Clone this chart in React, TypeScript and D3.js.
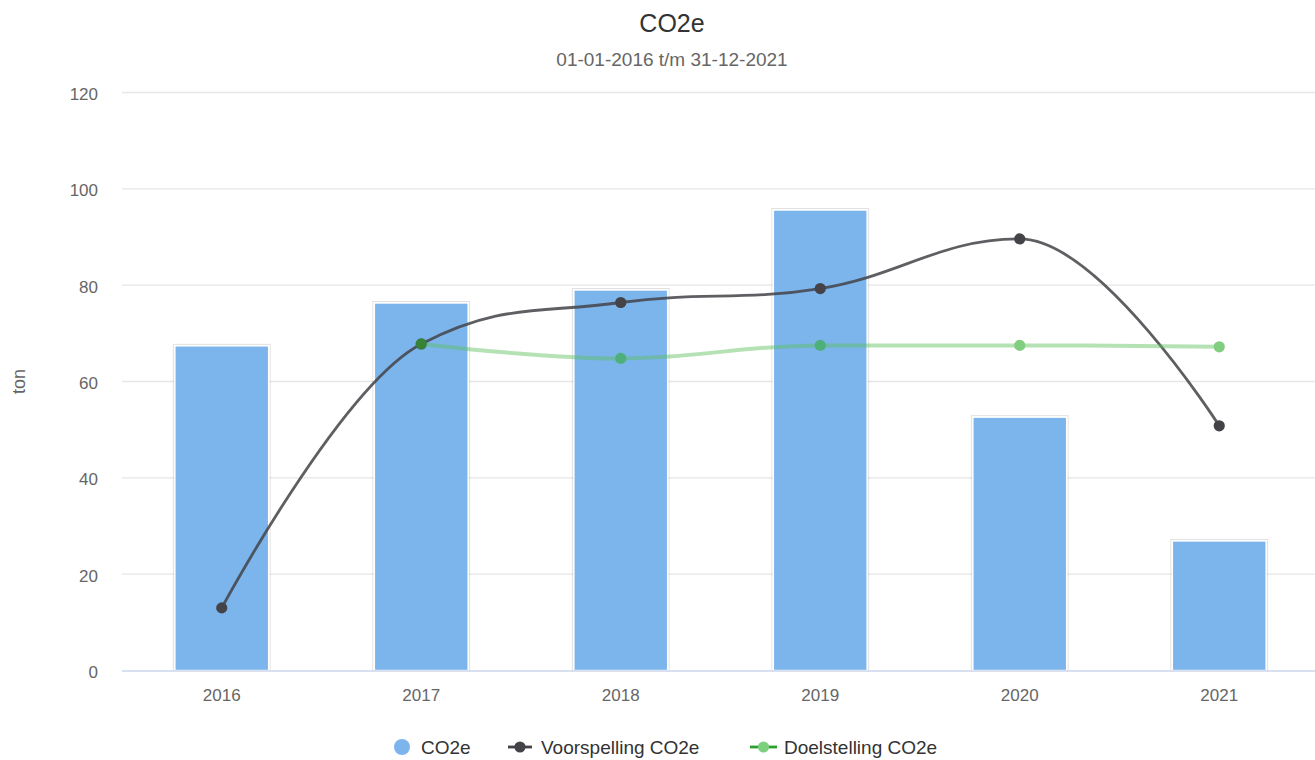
import React from 'react';
import * as d3 from 'd3';

const years = ['2016', '2017', '2018', '2019', '2020', '2021'];
const co2e = [67.4, 76.3, 79.0, 95.6, 52.6, 26.9];
const forecast = [13.0, 67.8, 76.4, 79.3, 89.6, 50.8];
const target: (number | null)[] = [null, 67.8, 64.8, 67.5, 67.5, 67.2];
const yTicks = [0, 20, 40, 60, 80, 100, 120];

const W = 1315;
const H = 760;
const margin = { top: 92.5, right: -4, bottom: 89.5, left: 122 };
const FONT = '"Liberation Sans", Arial, Helvetica, sans-serif';

type Pt = { x: number; y: number };

// Highcharts-style spline: control points at 1.5 smoothing, clamped at extremes
function splinePath(pts: Pt[]): string {
  const smoothing = 1.5;
  const denom = smoothing + 1;
  const ctrl = pts.map((p, i) => {
    const last = pts[i - 1];
    const next = pts[i + 1];
    if (!last || !next) return { lx: p.x, ly: p.y, rx: p.x, ry: p.y };
    const lx = (smoothing * p.x + last.x) / denom;
    let ly = (smoothing * p.y + last.y) / denom;
    const rx = (smoothing * p.x + next.x) / denom;
    let ry = (smoothing * p.y + next.y) / denom;
    const corr = ((ry - ly) * (rx - p.x)) / (rx - lx) + p.y - ry;
    ly += corr;
    ry += corr;
    if (ly > last.y && ly > p.y) {
      ly = Math.max(last.y, p.y);
      ry = 2 * p.y - ly;
    } else if (ly < last.y && ly < p.y) {
      ly = Math.min(last.y, p.y);
      ry = 2 * p.y - ly;
    }
    if (ry > next.y && ry > p.y) {
      ry = Math.max(next.y, p.y);
      ly = 2 * p.y - ry;
    } else if (ry < next.y && ry < p.y) {
      ry = Math.min(next.y, p.y);
      ly = 2 * p.y - ry;
    }
    return { lx, ly, rx, ry };
  });
  const path = d3.path();
  pts.forEach((p, i) => {
    if (i === 0) {
      path.moveTo(p.x, p.y);
      return;
    }
    const a = ctrl[i - 1];
    const b = ctrl[i];
    path.bezierCurveTo(a.rx, a.ry, b.lx, b.ly, p.x, p.y);
  });
  return path.toString();
}

export default function App() {
  const x = d3.scaleBand<string>().domain(years).range([margin.left, W - margin.right]).padding(0);
  const y = d3.scaleLinear().domain([0, 120]).range([H - margin.bottom, margin.top]);
  const bw = x.bandwidth() * 0.47;
  const cx = (yr: string) => (x(yr) ?? 0) + x.bandwidth() / 2;

  const forecastPts = forecast.map((v, i) => ({ x: cx(years[i]), y: y(v) }));
  const targetPts = target
    .map((v, i) => (v == null ? null : { x: cx(years[i]), y: y(v) }))
    .filter((p): p is Pt => p !== null);

  const legendY = 747;

  return (
    <svg
      width={W}
      height={H}
      style={{ position: 'absolute', left: 0, top: 0, background: '#fff' }}
      fontFamily={FONT}
    >
      <text x={672} y={32} textAnchor="middle" fontSize={25} fill="#333333">CO2e</text>
      <text x={672} y={66} textAnchor="middle" fontSize={19} fill="#666666">01-01-2016 t/m 31-12-2021</text>

      {/* grid */}
      {yTicks.map(t => (
        <g key={t}>
          {t > 0 && (
            <line x1={margin.left} x2={W} y1={y(t)} y2={y(t)} stroke="#e6e6e6" strokeWidth={1.4} />
          )}
          <text x={98} y={y(t) + 7.5} textAnchor="end" fontSize={17} fill="#666666">{t}</text>
        </g>
      ))}
      <text
        transform={`translate(25,${(margin.top + H - margin.bottom) / 2}) rotate(-90)`}
        textAnchor="middle"
        fontSize={18}
        fill="#666666"
      >ton</text>

      {/* bars */}
      {co2e.map((v, i) => (
        <g key={years[i]}>
          <rect
            x={cx(years[i]) - bw / 2 - 1.5}
            y={y(v) - 1.5}
            width={bw + 3}
            height={y(0) - y(v) + 1.5}
            fill="none"
            stroke="#000"
            strokeOpacity={0.12}
            strokeWidth={1}
          />
          <rect
            x={cx(years[i]) - bw / 2}
            y={y(v)}
            width={bw}
            height={y(0) - y(v)}
            fill="#7cb5ec"
            stroke="#ffffff"
            strokeWidth={1.4}
          />
        </g>
      ))}

      {/* x axis */}
      <line x1={margin.left} x2={W} y1={y(0) + 0.5} y2={y(0) + 0.5} stroke="#ccd6eb" strokeWidth={1.4} />
      {years.map(yr => (
        <text key={yr} x={cx(yr)} y={701} textAnchor="middle" fontSize={17} fill="#666666">{yr}</text>
      ))}

      {/* forecast */}
      <path d={splinePath(forecastPts)} fill="none" stroke="#434348" strokeOpacity={0.85} strokeWidth={2.8} />
      {forecastPts.map((p, i) => (
        <circle key={i} cx={p.x} cy={p.y} r={5.6} fill="#434348" />
      ))}

      {/* target */}
      <g opacity={0.6}>
        <path d={splinePath(targetPts)} fill="none" stroke="#5cbf5c" strokeOpacity={0.75} strokeWidth={4} />
        {targetPts.map((p, i) => (
          <circle key={i} cx={p.x} cy={p.y} r={5.6} fill="#2fae2f" />
        ))}
      </g>

      {/* legend */}
      <circle cx={402} cy={legendY} r={8} fill="#7cb5ec" />
      <text x={421} y={legendY + 7} fontSize={19} fill="#333333">CO2e</text>
      <line x1={508} x2={532} y1={legendY} y2={legendY} stroke="#434348" strokeWidth={2.8} />
      <circle cx={520} cy={legendY} r={5.6} fill="#434348" />
      <text x={541} y={legendY + 7} fontSize={19} fill="#333333">Voorspelling CO2e</text>
      <line x1={750} x2={777} y1={legendY} y2={legendY} stroke="#2ca02c" strokeWidth={2.8} />
      <circle cx={763.5} cy={legendY} r={5.6} fill="#7dd07d" />
      <text x={784} y={legendY + 7} fontSize={19} fill="#333333">Doelstelling CO2e</text>
    </svg>
  );
}
